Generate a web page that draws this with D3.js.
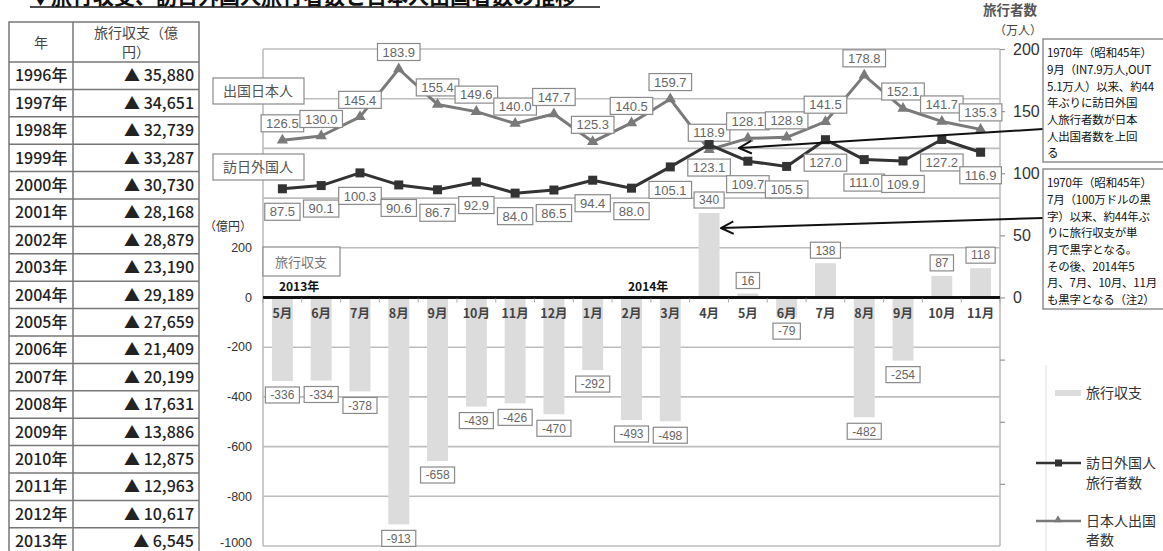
<!DOCTYPE html>
<html><head><meta charset="utf-8">
<script src="https://cdn.jsdelivr.net/npm/d3@7"></script>
<style>
html,body{margin:0;padding:0;background:#fff;}
svg{display:block;font-family:"Noto Sans CJK JP","Noto Sans",sans-serif;}
</style></head><body>
<svg id="chart" width="1163" height="551"></svg>
<script>
// ---- data ----
const tableYears = ["1996年","1997年","1998年","1999年","2000年","2001年","2002年","2003年","2004年",
  "2005年","2006年","2007年","2008年","2009年","2010年","2011年","2012年","2013年"];
const tableBalance = ["▲ 35,880","▲ 34,651","▲ 32,739","▲ 33,287","▲ 30,730","▲ 28,168","▲ 28,879",
  "▲ 23,190","▲ 29,189","▲ 27,659","▲ 21,409","▲ 20,199","▲ 17,631","▲ 13,886","▲ 12,875",
  "▲ 12,963","▲ 10,617","▲ 6,545"];

const months = ["5月","6月","7月","8月","9月","10月","11月","12月","1月","2月","3月","4月",
  "5月","6月","7月","8月","9月","10月","11月"];
const travelBalance = [-336,-334,-378,-913,-658,-439,-426,-470,-292,-493,-498,340,16,-79,138,-482,-254,87,118];
const visitors = [87.5,90.1,100.3,90.6,86.7,92.9,84.0,86.5,94.4,88.0,105.1,123.1,109.7,105.5,127.0,111.0,109.9,127.2,116.9];
const outbound = [126.5,130.0,145.4,183.9,155.4,149.6,140.0,147.7,125.3,140.5,159.7,118.9,128.1,128.9,141.5,178.8,152.1,141.7,135.3];
const yearLabels = [{text:"2013年", index:0},{text:"2014年", index:9}];

const leftTicks = [200,0,-200,-400,-600,-800,-1000];
const gridTicks = [1000,800,600,400,200,-200,-400,-600,-800,-1000];
const rightTicks = [200,150,100,50,0];
const rightMinorTicks = [-50,-100,-150];

const note1 = ["1970年（昭和45年）","9月（IN7.9万人,OUT","5.1万人）以来、約44","年ぶりに訪日外国",
  "人旅行者数が日本","人出国者数を上回","る"];
const note2 = ["1970年（昭和45年）","7月（100万ドルの黒","字）以来、約44年ぶ","りに旅行収支が単",
  "月で黒字となる。","その後、2014年5","月、7月、10月、11月","も黒字となる（注2）"];

// ---- layout ----
const svg = d3.select("#chart");
const plot = {left:263, right:1000, top:49, bottom:546};
const idx = d3.range(months.length);

const x = d3.scaleBand().domain(idx).range([plot.left, plot.right]).paddingInner(0.46).paddingOuter(0.23);
const cx = i => x(i) + x.bandwidth()/2;
const yL = d3.scaleLinear().domain([-1000,1000]).range([plot.bottom, plot.top]);
const yR = d3.scaleLinear().domain([-200,200]).range([plot.bottom, plot.top]);

// title (runs off the top edge)
svg.append("text").attr("x",30).attr("y",4).attr("font-size",21).attr("font-weight",700)
  .attr("fill","#111").text("▼旅行収支、訪日外国人旅行者数と日本人出国者数の推移");
svg.append("line").attr("x1",30).attr("x2",600).attr("y1",7).attr("y2",7).attr("stroke","#111").attr("stroke-width",1.6);

// ---- table ----
const tb = {left:9, right:199, mid:73, top:22, head:62, row:27.4};
const tg = svg.append("g");
tg.append("rect").attr("x",tb.left).attr("y",tb.top).attr("width",tb.right-tb.left)
  .attr("height",tb.head - tb.top + tb.row*tableYears.length).attr("fill","none").attr("stroke","#777").attr("stroke-width",1.5);
tg.append("line").attr("x1",tb.mid).attr("x2",tb.mid).attr("y1",tb.top).attr("y2",tb.head + tb.row*tableYears.length)
  .attr("stroke","#777").attr("stroke-width",1.5);
tableYears.forEach((yr,i)=>{
  const y0 = tb.head + i*tb.row;
  tg.append("line").attr("x1",tb.left).attr("x2",tb.right).attr("y1",y0).attr("y2",y0).attr("stroke","#777").attr("stroke-width",1.5);
  tg.append("text").attr("x",15).attr("y",y0+tb.row/2).attr("dy","0.36em").attr("font-size",16).attr("font-weight",500)
    .attr("fill","#222").text(yr);
  tg.append("text").attr("x",194).attr("y",y0+tb.row/2).attr("dy","0.36em").attr("font-size",16).attr("font-weight",500)
    .attr("text-anchor","end").attr("fill","#222").text(tableBalance[i]);
});
tg.append("text").attr("x",41).attr("y",43).attr("dy","0.36em").attr("text-anchor","middle").attr("font-size",14).attr("fill","#444").text("年");
tg.append("text").attr("x",136).attr("y",33).attr("dy","0.36em").attr("text-anchor","middle").attr("font-size",14).attr("fill","#444").text("旅行収支（億");
tg.append("text").attr("x",136).attr("y",52).attr("dy","0.36em").attr("text-anchor","middle").attr("font-size",14).attr("fill","#444").text("円）");

// ---- grid & frame ----
const grid = svg.append("g");
gridTicks.forEach(v=>{
  grid.append("line").attr("x1",plot.left).attr("x2",plot.right).attr("y1",yL(v)).attr("y2",yL(v))
    .attr("stroke","#bdbdbd").attr("stroke-width",1.6);
});
grid.append("line").attr("x1",plot.left).attr("x2",plot.left).attr("y1",plot.top).attr("y2",plot.bottom).attr("stroke","#bdbdbd").attr("stroke-width",1.6);
grid.append("line").attr("x1",plot.right).attr("x2",plot.right).attr("y1",plot.top).attr("y2",plot.bottom).attr("stroke","#bdbdbd").attr("stroke-width",1.6);

// left axis
const axL = svg.append("g").attr("transform",`translate(${plot.left},0)`)
  .call(d3.axisLeft(yL).tickValues(leftTicks).tickSize(0).tickPadding(11).tickFormat(d => String(d)));
axL.select(".domain").remove();
axL.selectAll("text").attr("font-size",12.5).attr("fill","#333").attr("font-family","Liberation Sans, Arial, sans-serif")
  .attr("dy", d => d === -1000 ? "0.05em" : "0.3em");
svg.append("text").attr("x",228).attr("y",227).attr("dy","0.36em").attr("text-anchor","middle").attr("font-size",12).attr("fill","#333").text("（億円）");

// right axis
const axR = svg.append("g").attr("transform",`translate(${plot.right},0)`)
  .call(d3.axisRight(yR).tickValues(rightTicks.concat(rightMinorTicks)).tickSize(5).tickPadding(8)
    .tickFormat(d => rightTicks.includes(d) ? String(d) : ""));
axR.select(".domain").remove();
axR.selectAll("line").attr("stroke","#999").attr("stroke-width",1.2);
axR.selectAll("text").attr("font-size",16).attr("fill","#333").attr("font-family","Liberation Sans, Arial, sans-serif");
svg.append("text").attr("x",1018).attr("y",31).attr("dy","0.36em").attr("text-anchor","middle").attr("font-size",12).attr("fill","#444").text("（万人）");
svg.append("text").attr("x",1010).attr("y",10).attr("dy","0.36em").attr("text-anchor","middle").attr("font-size",13.5).attr("font-weight",700).attr("fill","#555").text("旅行者数");

// ---- bars ----
svg.append("g").selectAll("rect").data(idx).join("rect")
  .attr("x", i => x(i)).attr("width", x.bandwidth())
  .attr("y", i => Math.min(yL(travelBalance[i]), yL(0)))
  .attr("height", i => Math.abs(yL(travelBalance[i]) - yL(0)))
  .attr("fill","#dcdcdc");

// zero line + small category ticks
svg.append("line").attr("x1",plot.left).attr("x2",plot.right).attr("y1",yL(0)).attr("y2",yL(0)).attr("stroke","#111").attr("stroke-width",3);
svg.append("g").selectAll("line").data(d3.range(months.length+1)).join("line")
  .attr("x1", i => plot.left + x.step()*i)
  .attr("x2", i => plot.left + x.step()*i)
  .attr("y1", yL(0)+1).attr("y2", yL(0)+5).attr("stroke","#aaa").attr("stroke-width",1);

// month labels & year labels
svg.append("g").selectAll("text").data(idx).join("text")
  .attr("x", i => cx(i)).attr("y", 313).attr("dy","0.36em").attr("text-anchor","middle")
  .attr("font-size",12.5).attr("font-weight",700).attr("fill","#444").text(i => months[i]);
svg.append("g").selectAll("text").data(yearLabels).join("text")
  .attr("x", d => x(d.index) + 7).attr("y", 287).attr("dy","0.36em")
  .attr("font-size",12).attr("font-weight",700).attr("fill","#111").text(d => d.text);

// label box helper
function boxLabel(g, px, py, txt, size, color, padX, h){
  const t = g.append("text").attr("x",px).attr("y",py).attr("dy","0.36em").attr("text-anchor","middle")
    .attr("font-size",size).attr("fill",color).attr("font-family","Liberation Sans, Arial, sans-serif").text(txt);
  const w = t.node().getComputedTextLength() + padX*2;
  g.insert("rect","text").attr("x",px-w/2).attr("y",py-h/2).attr("width",w).attr("height",h)
    .attr("fill","#fff").attr("stroke","#8a8a8a").attr("stroke-width",1.2);
}

// bar value labels
const barLab = svg.append("g");
idx.forEach(i=>{
  const v = travelBalance[i];
  const py = v < 0 ? yL(v) + 14 : yL(v) - 13;
  boxLabel(barLab.append("g"), cx(i), py, String(v), 12, "#666", 5, 16);
});

// "旅行収支" tag
svg.append("rect").attr("x",263).attr("y",247).attr("width",77).attr("height",29).attr("fill","#fff").attr("stroke","#8a8a8a").attr("stroke-width",1.2);
svg.append("text").attr("x",301).attr("y",262).attr("dy","0.36em").attr("text-anchor","middle").attr("font-size",13).attr("fill","#777").text("旅行収支");

// ---- lines ----
const line = (arr, sc) => d3.line().x((d,i)=>cx(i)).y(d=>sc(d))(arr);
svg.append("path").attr("d", line(outbound, yR)).attr("fill","none").attr("stroke","#7a7a7a").attr("stroke-width",3).attr("stroke-linejoin","round");
svg.append("path").attr("d", line(visitors, yR)).attr("fill","none").attr("stroke","#333").attr("stroke-width",3).attr("stroke-linejoin","round");

// series value labels
const lab = svg.append("g");
outbound.forEach((v,i)=>{ boxLabel(lab.append("g"), cx(i), yR(v) - 17, d3.format(".1f")(v), 13, "#666", 5, 17); });
visitors.forEach((v,i)=>{ boxLabel(lab.append("g"), cx(i), yR(v) + 23, d3.format(".1f")(v), 13, "#666", 5, 17); });

// markers
const tri = d3.symbol().type(d3.symbolTriangle).size(55);
svg.append("g").selectAll("path").data(outbound).join("path")
  .attr("transform",(d,i)=>`translate(${cx(i)},${yR(d)})`).attr("d",tri).attr("fill","#7a7a7a");
svg.append("g").selectAll("rect").data(visitors).join("rect")
  .attr("x",(d,i)=>cx(i)-4.5).attr("y",d=>yR(d)-4.5).attr("width",9).attr("height",9).attr("fill","#333");

// series tags
[["出国日本人",78],["訪日外国人",154]].forEach(([t,y0])=>{
  svg.append("rect").attr("x",213).attr("y",y0).attr("width",91).attr("height",26).attr("fill","#fff").attr("stroke","#8a8a8a").attr("stroke-width",1.2);
  svg.append("text").attr("x",258).attr("y",y0+13).attr("dy","0.36em").attr("text-anchor","middle").attr("font-size",14).attr("fill","#555").text(t);
});

// ---- notes & arrows ----
const defs = svg.append("defs");
defs.append("marker").attr("id","arrowOpen").attr("viewBox","0 0 12 12").attr("refX",11).attr("refY",6)
  .attr("markerWidth",15).attr("markerHeight",15).attr("markerUnits","userSpaceOnUse").attr("orient","auto")
  .append("path").attr("d","M1,1 L11,6 L1,11").attr("fill","none").attr("stroke","#111").attr("stroke-width",1.6);

svg.append("line").attr("x1",1043).attr("y1",129).attr("x2",739).attr("y2",148).attr("stroke","#111").attr("stroke-width",2).attr("marker-end","url(#arrowOpen)");
svg.append("line").attr("x1",1043).attr("y1",218).attr("x2",721).attr("y2",228).attr("stroke","#111").attr("stroke-width",2).attr("marker-end","url(#arrowOpen)");

function note(lines, top, h){
  svg.append("rect").attr("x",1043).attr("y",top).attr("width",125).attr("height",h).attr("fill","#fff").attr("stroke","#888").attr("stroke-width",1.4);
  lines.forEach((t,i)=>{
    svg.append("text").attr("x",1047).attr("y",top + 14 + i*16.7).attr("dy","0.36em").attr("font-size",11.5)
      .attr("letter-spacing",-0.2).attr("fill","#111").text(t);
  });
}
note(note1, 39, 123);
note(note2, 169, 140);

// ---- legend ----
svg.append("line").attr("x1",1046).attr("x2",1046).attr("y1",365).attr("y2",551).attr("stroke","#ddd").attr("stroke-width",1);
svg.append("rect").attr("x",1055).attr("y",390).attr("width",26).attr("height",6).attr("fill","#dcdcdc");
svg.append("text").attr("x",1086).attr("y",393).attr("dy","0.36em").attr("font-size",14).attr("fill","#333").text("旅行収支");
svg.append("line").attr("x1",1036).attr("x2",1081).attr("y1",463).attr("y2",463).attr("stroke","#333").attr("stroke-width",2.5);
svg.append("rect").attr("x",1055).attr("y",459.5).attr("width",7).attr("height",7).attr("fill","#333");
svg.append("text").attr("x",1086).attr("y",463).attr("dy","0.36em").attr("font-size",14).attr("fill","#333").text("訪日外国人");
svg.append("text").attr("x",1086).attr("y",483).attr("dy","0.36em").attr("font-size",14).attr("fill","#333").text("旅行者数");
svg.append("line").attr("x1",1036).attr("x2",1081).attr("y1",521).attr("y2",521).attr("stroke","#7a7a7a").attr("stroke-width",2.5);
svg.append("path").attr("transform","translate(1058,520)").attr("d",d3.symbol().type(d3.symbolTriangle).size(28)).attr("fill","#7a7a7a");
svg.append("text").attr("x",1086).attr("y",521).attr("dy","0.36em").attr("font-size",14).attr("fill","#333").text("日本人出国");
svg.append("text").attr("x",1086).attr("y",540).attr("dy","0.36em").attr("font-size",14).attr("fill","#333").text("者数");
</script>
</body></html>
